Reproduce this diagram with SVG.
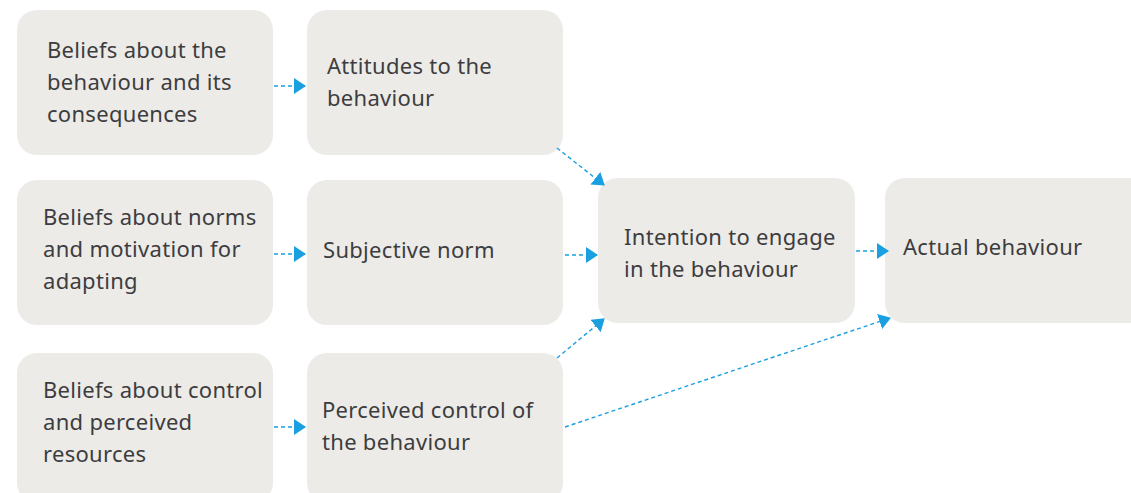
<svg xmlns="http://www.w3.org/2000/svg" width="1131" height="493" viewBox="0 0 1131 493">
<defs>
<style>
.box{fill:#ecebe8;}
.t{font-family:"Noto Sans","DejaVu Sans",sans-serif;font-size:22px;letter-spacing:0.3px;fill:#3d3d40;}
.c{stroke:#1a9fe0;stroke-width:1.4;stroke-dasharray:4 3;fill:none;}
</style>
<marker id="ah" markerUnits="userSpaceOnUse" markerWidth="13" markerHeight="16" refX="11" refY="8" orient="auto">
<path d="M0,0 L12,8 L0,16 Z" fill="#1a9fe0"/>
</marker>
</defs>
<rect width="1131" height="493" fill="#ffffff"/>
<g id="n1"><rect class="box" x="17" y="10" width="256" height="145" rx="20"/>
<text class="t" x="47" y="58">Beliefs about the</text><text class="t" x="47" y="90">behaviour and its</text><text class="t" x="47" y="122">consequences</text></g>
<g id="n2"><rect class="box" x="307" y="10" width="256" height="145" rx="20"/>
<text class="t" x="327" y="74">Attitudes to the</text><text class="t" x="327" y="106">behaviour</text></g>
<g id="n3"><rect class="box" x="17" y="180" width="256" height="145" rx="20"/>
<text class="t" x="43" y="225">Beliefs about norms</text><text class="t" x="43" y="257">and motivation for</text><text class="t" x="43" y="289">adapting</text></g>
<g id="n4"><rect class="box" x="307" y="180" width="256" height="145" rx="20"/>
<text class="t" x="323" y="258">Subjective norm</text></g>
<g id="n5"><rect class="box" x="17" y="353" width="256" height="150" rx="20"/>
<text class="t" x="43" y="398">Beliefs about control</text><text class="t" x="43" y="430">and perceived</text><text class="t" x="43" y="462">resources</text></g>
<g id="n6"><rect class="box" x="307" y="353" width="256" height="150" rx="20"/>
<text class="t" x="322" y="418">Perceived control of</text><text class="t" x="322" y="450">the behaviour</text></g>
<g id="n7"><rect class="box" x="598" y="178" width="257" height="145" rx="20"/>
<text class="t" x="624" y="245">Intention to engage</text><text class="t" x="624" y="277">in the behaviour</text></g>
<g id="n8"><rect class="box" x="885" y="178" width="265" height="145" rx="20"/>
<text class="t" x="903" y="255">Actual behaviour</text></g>
<g id="connectors">
<path class="c" d="M274,86 L305,86" marker-end="url(#ah)"/>
<path class="c" d="M274,254 L305,254" marker-end="url(#ah)"/>
<path class="c" d="M274,427 L305,427" marker-end="url(#ah)"/>
<path class="c" d="M557,148 L604,185" marker-end="url(#ah)"/>
<path class="c" d="M565,255 L597,255" marker-end="url(#ah)"/>
<path class="c" d="M557,358 L604,319" marker-end="url(#ah)"/>
<path class="c" d="M856,251 L888,251" marker-end="url(#ah)"/>
<path class="c" d="M565,427 L890,318" marker-end="url(#ah)"/>
</g>
</svg>
